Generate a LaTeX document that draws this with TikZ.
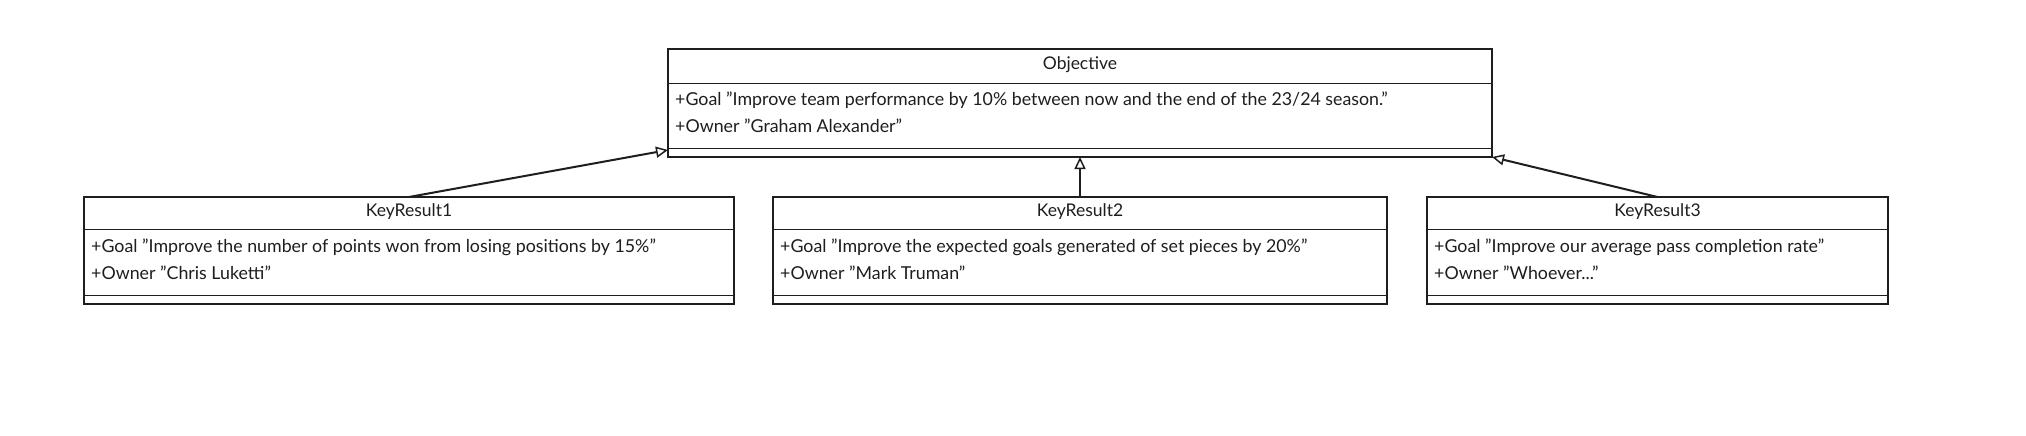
\documentclass[tikz,border=0pt]{standalone}
\usepackage{fontspec}
\setmainfont{Lato}
\usetikzlibrary{arrows.meta}
\definecolor{ink}{HTML}{1E1E1E}
\begin{document}
\begin{tikzpicture}[x=1pt,y=-1pt,
  umlbox/.style={draw=ink, line width=1.2pt, inner sep=0pt, outer sep=0pt},
  divider/.style={draw=ink, line width=1pt},
  titletext/.style={text=ink, font=\fontsize{17.5}{20}\selectfont, inner sep=0pt, anchor=center},
  attrtext/.style={text=ink, font=\fontsize{17.8}{20}\selectfont, inner sep=0pt, anchor=west},
  inherit/.style={draw=ink, line width=2pt, -{Triangle[open, length=12pt, width=11pt, line width=1.5pt]}}
]
\fill[white] (0,0) rectangle (2026,436);
\useasboundingbox (0,0) rectangle (2026,436);

% Objective
\node[umlbox, minimum width=824pt, minimum height=108pt] (obj) at (1080,103) {};
\draw[divider] ([yshift=-34pt]obj.north west) -- ([yshift=-34pt]obj.north east);
\draw[divider] ([yshift=9pt]obj.south west) -- ([yshift=9pt]obj.south east);
\node[titletext] (objt) at (1080,65) {Objective};
\node[attrtext] (objg) at (675,100) {+Goal "Improve team performance by 10\% between now and the end of the 23/24 season."};
\node[attrtext] (objo) at (675,126) {+Owner "Graham Alexander"};

% KeyResult1
\node[umlbox, minimum width=650pt, minimum height=107pt] (kr1) at (409,250.5) {};
\draw[divider] ([yshift=-32pt]kr1.north west) -- ([yshift=-32pt]kr1.north east);
\draw[divider] ([yshift=9pt]kr1.south west) -- ([yshift=9pt]kr1.south east);
\node[titletext] (kr1t) at (409,212) {KeyResult1};
\node[attrtext] (kr1g) at (91,247) {+Goal "Improve the number of points won from losing positions by 15\%"};
\node[attrtext] (kr1o) at (91,273) {+Owner "Chris Luketti"};

% KeyResult2
\node[umlbox, minimum width=614pt, minimum height=107pt] (kr2) at (1080,250.5) {};
\draw[divider] ([yshift=-32pt]kr2.north west) -- ([yshift=-32pt]kr2.north east);
\draw[divider] ([yshift=9pt]kr2.south west) -- ([yshift=9pt]kr2.south east);
\node[titletext] (kr2t) at (1080,212) {KeyResult2};
\node[attrtext] (kr2g) at (780,247) {+Goal "Improve the expected goals generated of set pieces by 20\%"};
\node[attrtext] (kr2o) at (780,273) {+Owner "Mark Truman"};

% KeyResult3
\node[umlbox, minimum width=461pt, minimum height=107pt] (kr3) at (1657.5,250.5) {};
\draw[divider] ([yshift=-32pt]kr3.north west) -- ([yshift=-32pt]kr3.north east);
\draw[divider] ([yshift=9pt]kr3.south west) -- ([yshift=9pt]kr3.south east);
\node[titletext] (kr3t) at (1657.5,212) {KeyResult3};
\node[attrtext] (kr3g) at (1434,247) {+Goal "Improve our average pass completion rate"};
\node[attrtext] (kr3o) at (1434,273) {+Owner "Whoever..."};

% Connectors
\draw[inherit] (kr1.north) -- ([yshift=7pt]obj.south west);
\draw[inherit] (kr2.north) -- (obj.south);
\draw[inherit] (kr3.north) -- (obj.south east);
\end{tikzpicture}
\end{document}
